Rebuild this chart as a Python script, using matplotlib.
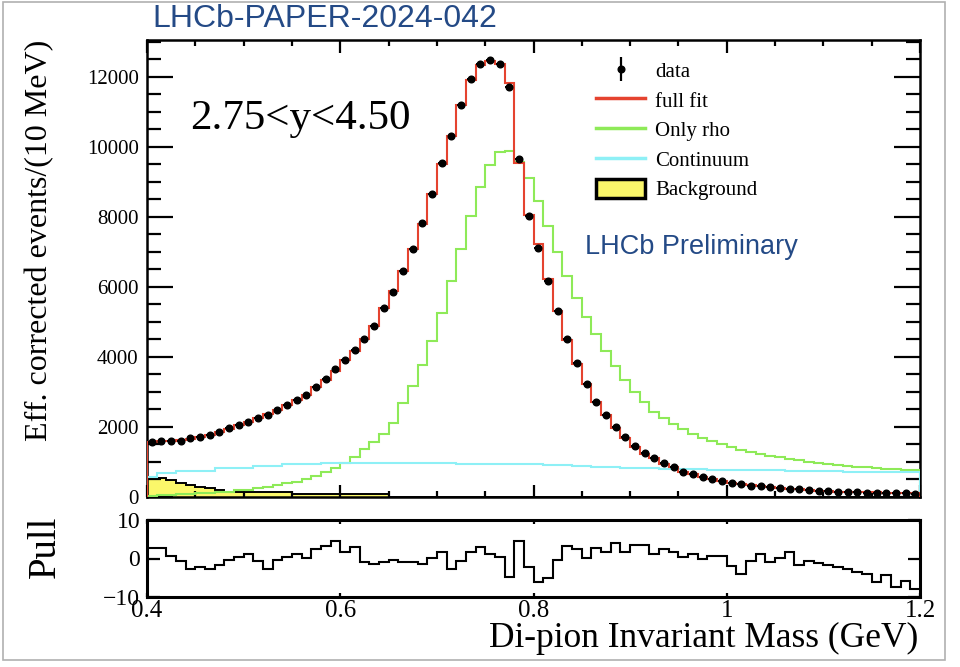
import numpy as np
import matplotlib
matplotlib.use("Agg")
import matplotlib.pyplot as plt
from matplotlib.lines import Line2D
from matplotlib.patches import Patch, Rectangle

# Di-pion mass, 10 MeV bins from 0.4 to 1.2 GeV
edges = np.round(np.arange(0.40, 1.2001, 0.01), 3)
centers = 0.5 * (edges[:-1] + edges[1:])

data = [1580, 1590, 1609, 1609, 1676, 1724, 1771, 1866, 1962, 2057,
        2152, 2248, 2343, 2486, 2629, 2771, 2914, 3152, 3371, 3648,
        3914, 4200, 4505, 4886, 5390, 5867, 6467, 7086, 7819, 8657,
        9533, 10314, 11200, 11933, 12371, 12467, 12371, 11705, 9640, 8035,
        7105, 6181, 5324, 4505, 3819, 3229, 2724, 2343, 1990, 1705,
        1457, 1248, 1105, 962, 867, 724, 657, 570, 520, 467,
        410, 366, 328, 314, 285, 262, 234, 219, 200, 181,
        175, 152, 143, 133, 128, 124, 118, 105, 100, 95]

data_err = [30, 30, 30, 30, 31, 31, 32, 33, 34, 35,
            36, 37, 38, 39, 40, 41, 42, 44, 46, 48,
            50, 52, 55, 57, 60, 63, 66, 70, 73, 77,
            80, 84, 88, 91, 93, 93, 93, 90, 82, 75,
            70, 65, 60, 55, 50, 46, 42, 39, 36, 33,
            30, 28, 26, 25, 23, 21, 20, 19, 18, 17,
            16, 15, 14, 14, 13, 13, 12, 12, 11, 11,
            11, 10, 10, 10, 10, 9, 9, 9, 9, 9]

full_fit = [1560, 1585, 1600, 1620, 1665, 1720, 1780, 1860, 1955, 2055,
            2145, 2265, 2375, 2490, 2625, 2765, 2915, 3130, 3340, 3600,
            3900, 4165, 4510, 4895, 5395, 5875, 6460, 7075, 7810, 8650,
            9520, 10320, 11190, 11900, 12350, 12460, 12365, 11830, 9530, 8060,
            7230, 6225, 5325, 4475, 3800, 3230, 2700, 2330, 1970, 1695,
            1440, 1230, 1100, 950, 858, 722, 652, 570, 519, 466,
            413, 372, 329, 312, 286, 262, 232, 221, 201, 183,
            178, 155, 147, 138, 133, 132, 122, 114, 106, 104]

only_rho = [40, 50, 60, 75, 90, 105, 120, 135, 150, 190,
            210, 250, 290, 340, 400, 440, 510, 590, 710, 830,
            970, 1150, 1370, 1570, 1800, 2100, 2676, 3171, 3771, 4457,
            5248, 6181, 7086, 8029, 8866, 9486, 9838, 9880, 9552, 9105,
            8460, 7735, 6985, 6314, 5676, 5140, 4650, 4180, 3750, 3350,
            3010, 2700, 2415, 2250, 2080, 1930, 1800, 1690, 1590, 1500,
            1420, 1350, 1290, 1230, 1180, 1130, 1090, 1050, 1010, 975,
            945, 915, 890, 865, 845, 825, 810, 795, 780, 770]

continuum = [581, 676, 676, 752, 752, 752, 752, 819, 819, 819,
             819, 886, 886, 886, 943, 943, 943, 955, 960, 960,
             960, 960, 960, 960, 960, 960, 960, 960, 960, 960,
             960, 960, 945, 940, 940, 940, 940, 940, 940, 940,
             930, 920, 910, 900, 890, 880, 870, 860, 850, 840,
             830, 820, 815, 810, 805, 800, 795, 790, 785, 780,
             775, 770, 768, 766, 764, 760, 755, 750, 745, 740,
             735, 730, 725, 720, 715, 710, 705, 700, 700, 700]

background = [581, 533, 486, 410, 343, 295, 248, 200, 152, 152,
              152, 152, 152, 152, 152, 85, 85, 85, 85, 85,
              85, 85, 85, 85, 85, 0, 0, 0, 0, 0,
              0, 0, 0, 0, 0, 0, 0, 0, 0, 0,
              0, 0, 0, 0, 0, 0, 0, 0, 0, 0,
              0, 0, 0, 0, 0, 0, 0, 0, 0, 0,
              0, 0, 0, 0, 0, 0, 0, 0, 0, 0,
              0, 0, 0, 0, 0, 0, 0, 0, 0, 0]

pull = [2.67, 2.67, 0.62, -0.71, -2.67, -2.2, -2.67, -1.6, -0.44, 0.44,
        1.07, -0.71, -2.67, -0.27, 0.44, 1.07, 0.18, 2.58, 3.29, 4.62,
        1.78, 3.11, -0.89, -1.33, -0.89, -0.44, -0.89, -0.89, -1.33, 0.18,
        1.78, -2.67, -0.71, 1.78, 3.11, 1.07, 0.44, -4.9, 4.62, -2.2,
        -6.04, -5.16, -0.27, 3.29, 2.58, 0.18, 2.84, 1.78, 3.91, 1.78,
        3.56, 3.56, 1.07, 2.4, 1.78, 0.44, 1.07, 0.0, 0.62, 0.62,
        -1.87, -4.0, -0.71, 1.24, -0.89, 0.18, 1.69, -1.78, -0.71, -1.16,
        -1.78, -2.2, -2.67, -3.38, -4.0, -6.04, -4.27, -7.38, -5.78, -7.82]

RED = "#e5432f"
GREEN = "#8eea58"
CYAN = "#8ef0f6"
YELLOW = "#fbf76a"
BLUE = "#244a86"
serif = ["Liberation Serif", "DejaVu Serif"]

plt.rcParams["font.family"] = serif

fig = plt.figure(figsize=(9.6, 6.67), dpi=100)
ax = fig.add_axes([147 / 960, 1 - 497 / 667, 773 / 960, 457 / 667])
axp = fig.add_axes([147 / 960, 1 - 597 / 667, 773 / 960, 77 / 667])

# main panel
ax.stairs(background, edges, fill=True, color=YELLOW, zorder=1)
ax.stairs(background, edges, color="k", lw=1.4, zorder=2)
ax.stairs(only_rho, edges, color=GREEN, lw=1.5, zorder=3)
ax.stairs(continuum, edges, color=CYAN, lw=1.5, zorder=3)
ax.stairs(full_fit, edges, color=RED, lw=1.5, zorder=4)
ax.errorbar(centers, data, yerr=data_err, xerr=0.004, fmt="o", ms=4.8,
            color="k", elinewidth=1.4, capsize=0, zorder=5)

ax.set_xlim(0.4, 1.2)
ax.set_ylim(0, 13050)
ax.set_yticks(np.arange(0, 12001, 2000))
ax.set_yticks(np.arange(0, 13001, 500), minor=True)
ax.set_xticks([0.4, 0.6, 0.8, 1.0, 1.2])
ax.set_xticks(np.arange(0.4, 1.2001, 0.05), minor=True)
ax.tick_params(axis="both", which="both", direction="in", top=True, right=True,
               width=1.6, labelsize=15)
ax.tick_params(axis="y", which="major", length=19, pad=6)
ax.tick_params(axis="y", which="minor", length=10)
ax.tick_params(axis="x", which="major", length=9, labelbottom=False)
ax.tick_params(axis="x", which="minor", length=4.5)
for s in ax.spines.values():
    s.set_linewidth(1.8)

ax.text(0.056, 0.828, "2.75<y<4.50", transform=ax.transAxes, fontsize=31,
        va="center", ha="left")
ax.text(0.567, 0.547, "LHCb Preliminary", transform=ax.transAxes,
        fontsize=19.5, color=BLUE, va="center", ha="left",
        family=["Liberation Sans", "DejaVu Sans"])

data_h = (Line2D([], [], ls="none", marker="|", ms=17, mew=1.6, color="k"),
          Line2D([], [], ls="none", marker="o", ms=4.8, color="k"))
handles = [data_h,
           Line2D([], [], color=RED, lw=2.5),
           Line2D([], [], color=GREEN, lw=2.5),
           Line2D([], [], color=CYAN, lw=2.5),
           Patch(facecolor=YELLOW, edgecolor="k", lw=2.5)]
labels = ["data", "full fit", "Only rho", "Continuum", "Background"]
ax.legend(handles, labels, loc="upper left", bbox_to_anchor=(0.581, 0.955),
          frameon=False, fontsize=15, handlelength=2.35, handleheight=1.0,
          handletextpad=0.5, labelspacing=0.39, borderpad=0, borderaxespad=0)

# pull panel
axp.stairs(pull, edges, baseline=None, color="k", lw=1.5)
axp.set_xlim(0.4, 1.2)
axp.set_ylim(-10, 10)
axp.set_yticks([-10, 0, 10])
axp.set_yticklabels(["\u221210", "0", "10"])
axp.set_xticks([0.4, 0.6, 0.8, 1.0, 1.2])
axp.set_xticklabels(["0.4", "0.6", "0.8", "1", "1.2"])
axp.tick_params(axis="both", direction="in", top=True, right=True, width=1.6,
                labelsize=18)
axp.tick_params(axis="y", length=9, pad=5, labelsize=17)
axp.tick_params(axis="x", length=3, pad=2)
for s in axp.spines.values():
    s.set_linewidth(2.2)

fig.text(40 / 960, 1 - 240 / 667, "Eff. corrected events/(10 MeV)",
         rotation=90, ha="center", va="center", fontsize=23)
fig.text(45 / 960, 1 - 547 / 667, "Pull", rotation=90, ha="center",
         va="center", fontsize=28)
fig.text(918 / 960, 1 - 638 / 667, "Di-pion Invariant Mass (GeV)",
         ha="right", va="center", fontsize=25.5)
fig.text(152 / 960, 1 - 19 / 667, "LHCb-PAPER-2024-042", ha="left",
         va="center", fontsize=23, color=BLUE,
         family=["Liberation Sans", "DejaVu Sans"])

fig.patches.append(Rectangle((3 / 960, 1 - 660 / 667), 942 / 960, 658 / 667,
                             transform=fig.transFigure, fill=False,
                             edgecolor="#b0b0b0", lw=1.2))

fig.savefig("out.png", dpi=100)
